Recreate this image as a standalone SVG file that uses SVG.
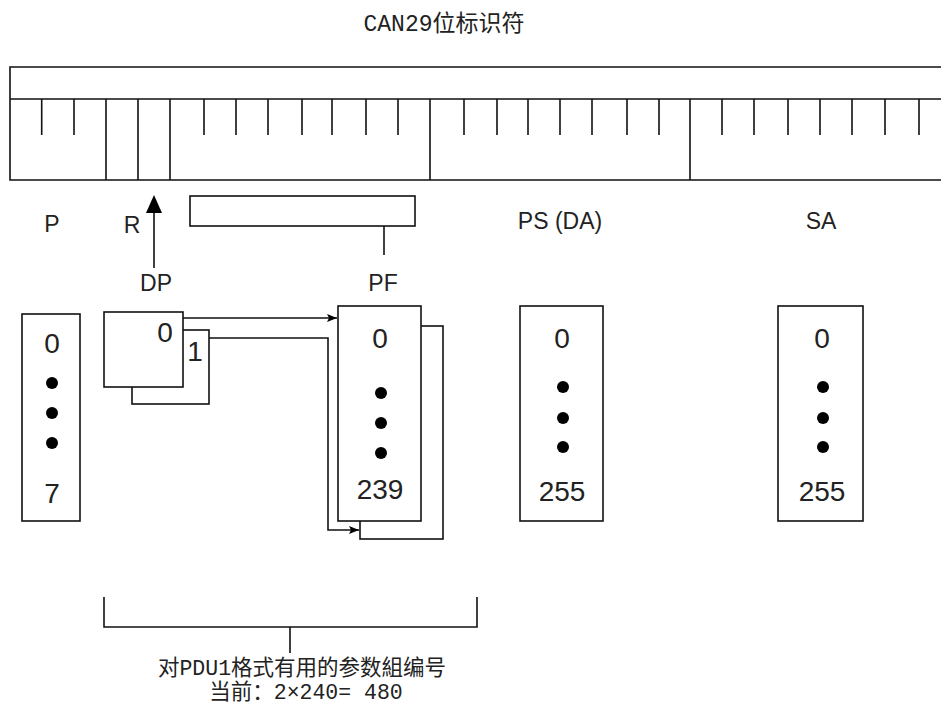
<svg xmlns="http://www.w3.org/2000/svg" width="941" height="707" viewBox="0 0 941 707">
<defs>
<style>
.ln{fill:none;stroke:#111;stroke-width:1.6}
.bx{fill:#fff;stroke:#111;stroke-width:1.6}
.lbl{font-family:"Liberation Sans",Arial,sans-serif;font-size:23px;fill:#222;text-anchor:middle}
.num{font-family:"Liberation Sans",Arial,sans-serif;font-size:28px;fill:#222;text-anchor:middle}
.cjk{font-family:"Liberation Mono","Noto Sans CJK SC",monospace;font-size:21.5px;fill:#222;text-anchor:middle}
.ttl{font-size:23px}
.dot{fill:#000}
</style>
<marker id="ah" viewBox="0 0 10 10" refX="10" refY="5" markerWidth="10" markerHeight="10" markerUnits="userSpaceOnUse" orient="auto">
<path d="M0,1 L10,5 L0,9 L2,5 Z" fill="#000"/>
</marker>
</defs>
<rect width="941" height="707" fill="#fff"/>

<g id="title"><text class="cjk ttl" x="444" y="31">CAN29位标识符</text></g>

<g id="identifier">
<path class="ln" d="M950,67 H10 V180 H950 M10,99 H950"/>
<path class="ln" d="M41.7,99V135 M74,99V135 M204,99V135 M236,99V135 M268,99V135 M302,99V135 M332,99V135 M366,99V135 M398,99V135 M464,99V135 M497,99V135 M528,99V135 M560,99V135 M592,99V135 M627,99V135 M659,99V135 M722,99V135 M754,99V135 M788,99V135 M820,99V135 M852,99V135 M885,99V135 M919,99V135"/>
<path class="ln" d="M106,99V180 M138,99V180 M170,99V180 M430,99V180 M690,99V180"/>
</g>

<g id="labels">
<text class="lbl" x="52" y="232">P</text>
<text class="lbl" x="132" y="233">R</text>
<text class="lbl" x="156" y="291">DP</text>
<text class="lbl" x="383" y="291">PF</text>
<text class="lbl" x="560" y="229">PS (DA)</text>
<text class="lbl" x="821" y="229">SA</text>
</g>

<g id="pf-bracket">
<rect class="ln" x="190" y="196" width="225" height="30"/>
<path class="ln" d="M384,226V255"/>
</g>

<g id="p-box">
<rect class="bx" x="22" y="314" width="58" height="207"/>
<text class="num" x="52" y="353">0</text>
<circle class="dot" cx="52" cy="383" r="6"/>
<circle class="dot" cx="52" cy="413" r="6"/>
<circle class="dot" cx="52" cy="443" r="6"/>
<text class="num" x="52" y="503">7</text>
</g>

<g id="dp-box">
<rect class="bx" x="132" y="330" width="77" height="74"/>
<rect class="bx" x="104" y="312" width="79" height="75"/>
<text class="num" x="165" y="342">0</text>
<text class="num" x="195" y="361">1</text>
</g>

<g id="pf-box">
<rect class="bx" x="360" y="326" width="83" height="213"/>
<rect class="bx" x="338" y="306" width="83" height="215"/>
<text class="num" x="380" y="348">0</text>
<circle class="dot" cx="381" cy="393" r="6"/>
<circle class="dot" cx="381" cy="423" r="6"/>
<circle class="dot" cx="381" cy="453" r="6"/>
<text class="num" x="380" y="499">239</text>
</g>

<g id="ps-box">
<rect class="bx" x="520" y="306" width="83" height="215"/>
<text class="num" x="562" y="348">0</text>
<circle class="dot" cx="563" cy="387" r="6"/>
<circle class="dot" cx="563" cy="418" r="6"/>
<circle class="dot" cx="563" cy="447" r="6"/>
<text class="num" x="562" y="501">255</text>
</g>

<g id="sa-box">
<rect class="bx" x="778" y="306" width="85" height="215"/>
<text class="num" x="822" y="348">0</text>
<circle class="dot" cx="823" cy="387" r="6"/>
<circle class="dot" cx="823" cy="418" r="6"/>
<circle class="dot" cx="823" cy="447" r="6"/>
<text class="num" x="822" y="501">255</text>
</g>

<g id="connectors">
<path class="ln" d="M154,268V210"/>
<polygon points="154,195 146,213 162,213" fill="#000"/>
<path class="ln" d="M183,318H337" marker-end="url(#ah)"/>
<path class="ln" d="M209,338H328V530H359" marker-end="url(#ah)"/>
</g>

<g id="bottom-bracket">
<path class="ln" d="M104,597V627H477V597 M290,627V653"/>
<text class="cjk" x="302" y="675">对PDU1格式有用的参数組编号</text>
<text class="cjk" x="306" y="699">当前：2×240= 480</text>
</g>
</svg>
